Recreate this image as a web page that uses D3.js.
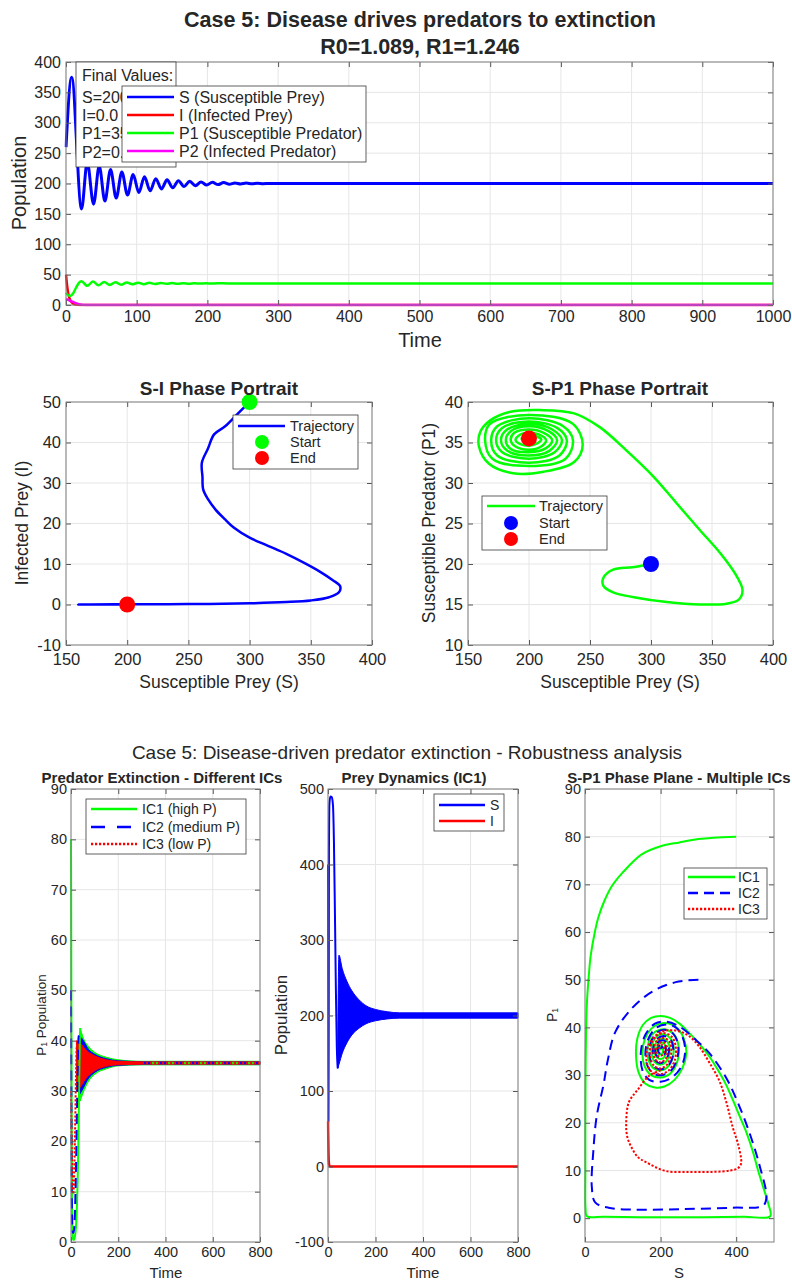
<!DOCTYPE html>
<html>
<head>
<meta charset="utf-8">
<script src="https://cdn.jsdelivr.net/npm/d3@7"></script>
<style>
body { margin: 0; background: #fff; }
text { font-family: "Liberation Sans", Arial, sans-serif; fill: #262626; }
</style>
</head>
<body>
<svg id="fig" width="792" height="1282"></svg>
<script>
// ---------- top panel: time series [t, value] ----------
var sTop = [[0,260],[8,375],[22,158],[30,235],[39,166],[47,229],[55,171],[63,223],[71,176],[79,219],[87,181],[95,215],[103,185],[111,211],[119,188],[127,208],[135,191],[143,206],[151,193],[159,204.5],[167,195],[175,203.5],[183,196.5],[191,202.5],[199,197.5],[207,202],[215,198.2],[223,201.5],[231,198.8],[239,201],[247,199.2],[255,200.7],[263,199.5],[271,200.4],[279,199.7],[287,200.2],[300,200],[1000,200]];
var iTop = [[0,50],[1,38],[2,28],[3,20],[5,11],[7,6],[10,2.5],[14,0.8],[20,0.1],[30,0],[1000,0]];
var p1Top = [[0,20],[3,16],[6,15],[10,19],[14,28],[18,36],[22,39],[30,31.5],[38,38.5],[46,32.5],[54,38],[62,33],[70,37.5],[78,33.5],[86,37],[94,34],[102,36.8],[110,34.3],[118,36.5],[126,34.6],[134,36.3],[142,34.8],[150,36.1],[158,35],[166,36],[174,35.1],[182,35.9],[190,35.2],[198,35.8],[206,35.3],[214,35.7],[230,35.5],[1000,35.5]];
var p2Top = [[0,10],[3,8.5],[6,7],[10,5],[14,3],[18,1.5],[22,0.6],[28,0.1],[35,0],[1000,0]];
var topNames = ["S (Susceptible Prey)", "I (Infected Prey)", "P1 (Susceptible Predator)", "P2 (Infected Predator)"];
var finalValues = ["Final Values:", "S=200.0", "I=0.0", "P1=35.6", "P2=0.0"];

// ---------- phase portraits [S, I] and [S, P1] ----------
var siTraj = [[300,50],[290,47],[280,44],[271,42],[266,38.5],[261,35],[261.5,31.5],[262,28.5],[266,26],[272,23.5],[280,21],[287,19],[300,16.5],[315,14.5],[330,12.5],[345,10.2],[358,8],[368,6],[374,4.5],[373,3],[365,1.8],[350,1.0],[330,0.6],[300,0.3],[250,0.1],[200,0.05],[160,0],[200,0]];
var spTraj = [[300,20],[285,19.6],[269,19.3],[261,18.3],[261,17.3],[269,16.5],[286,15.9],[313,15.3],[340,15],[362,15.1],[372,15.6],[375,16.8],[369,18.8],[357,21.3],[340,24.2],[321,27.5],[302,30.8],[280,34],[258,36.9],[237,38.6],[209,39],[185,38.8],[168,37.7],[160,36.3],[159,34.5],[167,32.4],[187,31.2],[212,31.4],[237,32.6],[244,34.7],
  [236,37.3],[200,38.4],[168,37.3],[164,35.3],[170,33],[200,32.1],[230,33],[236,35.3],
  [228,37],[200,38],[174,37],[169,35.3],[174,33.4],[200,32.5],[225,33.4],[231,35.3],
  [223,36.8],[200,37.6],[178,36.8],[173,35.3],[178,33.8],[200,33],[221,33.8],[227,35.3],
  [219,36.6],[200,37.3],[182,36.6],[177,35.3],[182,34],[200,33.4],[217,34],[223,35.3],
  [216,36.4],[200,37],[185,36.4],[181,35.3],[185,34.2],[200,33.8],[214,34.3],[219,35.3],
  [212,36.2],[200,36.6],[188,36.2],[185,35.3],[189,34.5],[200,34.1],[210,34.5],[214,35.3],
  [208,36],[200,36.2],[192,35.9],[189,35.3],[193,34.8],[200,34.6],[207,34.9],[210,35.4],
  [205,35.8],[200,35.9],[195,35.7],[194,35.4],[197,35.1],[200,35.1],[203,35.3],[200,35.5]];
var siStart = [300, 50], siEnd = [200, 0];
var spStart = [300, 20], spEnd = [200, 35.5];

// ---------- robustness: P1 vs time for three ICs ----------
var p1Ic1 = [[0,80],[1,60],[2,40],[3,20],[4,8],[6,2],[9,0.5],[13,0.4],[17,1.2],[21,3],[25,7],[28,12],[31,19],[33,26],[35,33],[37,39],[39,42.5]];
var p1Ic2 = [[0,50],[1,35],[2,22],[3,12],[5,4],[7,2],[10,1.8],[14,3],[18,8],[22,17],[25,26],[28,34],[31,40],[33,41]];
var p1Ic3 = [[0,30],[3,20],[6,12],[9,9.5],[12,11],[15,16],[18,24],[21,33],[24,39]];
// oscillation envelopes [t, upper, lower]
var p1BandIc1 = [[39,42.5,28],[50,40.8,29.5],[75,38.8,32],[100,37.7,33.3],[150,36.7,34.4],[200,36.2,35],[300,35.9,35.2],[800,35.9,35.2]];
var p1BandIc2 = [[32,41,29],[45,40.5,30],[75,38.2,32.6],[100,37.3,33.7],[150,36.4,34.7],[200,36,35.1],[300,35.85,35.25],[800,35.85,35.25]];
var p1BandIc3 = [[23,40,30],[40,39.5,30.8],[60,38.3,32.3],[100,37,34],[150,36.2,34.9],[200,35.9,35.2],[300,35.8,35.3],[800,35.8,35.3]];
var p1Tail = [[300,35.55],[800,35.55]];
var icNames = ["IC1 (high P)", "IC2 (medium P)", "IC3 (low P)"];

// ---------- prey dynamics IC1 ----------
var sIc1 = [[0,400],[1,200],[2,60],[3,200],[4,420],[6,480],[10,490],[16,489],[21,478],[25,430],[29,340],[33,240],[37,160],[41,130]];
var sBandIc1 = [[41,160,130],[46,280,135],[60,262,150],[80,245,164],[100,233,174],[130,221,183],[160,213,189],[200,208,193],[250,205,195.5],[300,203.5,196.5],[800,203.5,196.5]];
var iIc1 = [[0,60],[1,40],[2,20],[3,8],[5,2],[8,0.3],[12,0],[800,0]];

// ---------- S-P1 phase plane, three ICs ----------
var ph1 = [[400,80],[340,79.8],[300,79.5],[250,78.8],[200,78],[150,76.3],[100,72.5],[70,69.5],[50,66.3],[35,63],[25,59.6],[15,55],[10,50.8],[5,45],[3,40],[1.5,30],[1,20],[1,10],[1.5,2],[5,0.4],[50,0.3],[150,0.2],[300,0.2],[420,0.3],[490,0.4],[485,3],[471,6.6],[458,10],[444,14],[427,18],[409,21.4],[390,25],[373,28],[352,31],[329,33.9],[303,36.5],[276,38.8],[250,40.8],[225,42],[200,42.4],[175,42],[153,40.5],[138,37.5],[135,34],[142,30.5],[160,28.2],[185,27.4],[210,27.6],[237,29],[258,31.5],[268,34.5],[262,37.5],[245,39.8],[222,40.8],[198,40.8],[175,39.7],[158,37.5],[152,34.5],[158,31.8],[175,30],[200,29.5],[225,30.3],[243,32.5],[248,35.5],[240,38],[220,39.4],[198,39.5],[177,38.5],[166,36],[168,33.2],[182,31.4],[202,31],[222,32],[234,34.5],[231,37],[215,38.4],[195,38.4],[180,37],[176,34.8],[184,32.8],[200,32.2],[216,33],[224,35],[218,37],[203,37.6],[188,36.8],[184,35],[192,33.6],[206,33.5],[214,35],[209,36.6],[197,36.7],[190,35.4],[196,34.3],[205,34.6],[205,35.9],[199,36],[197,35.3],[200,35.5]];
var ph2 = [[300,50],[240,49.5],[178,47.5],[124,44],[80,39],[60,33],[49,28],[31,21.4],[22,14],[18,6.6],[27,3.3],[62,2.2],[124,1.8],[258,1.9],[391,2.2],[471,2.6],[480,4.4],[462,11],[436,17.7],[404,24.3],[373,29.5],[329,34.6],[290,37.6],[250,40.2],[215,41.2],[185,40.8],[160,38.5],[148,35],[152,31],[170,29],[200,28.6],[230,29.5],[255,31.8],[265,35],[258,38],[240,40],[215,40.6],[190,40],[170,38],[160,35],[165,32],[182,30.3],[205,30],[228,31],[244,33.5],[246,36.5],[232,38.8],[210,39.5],[188,38.8],[173,36.5],[172,33.5],[186,31.6],[206,31.3],[225,32.5],[234,35],[226,37.5],[208,38.2],[190,37.5],[180,35.5],[184,33.3],[200,32.5],[216,33.5],[222,35.5],[214,37],[199,37.2],[187,36],[188,34.2],[200,33.7],[212,34.6],[212,36.2],[201,36.5],[193,35.6],[197,34.6],[206,35],[204,36],[200,35.5]];
var ph3 = [[200,31],[169,29.8],[140,27],[116,24.3],[109,19.9],[112,17],[124,14.7],[140,12.8],[160,11.8],[213,9.9],[280,9.7],[340,9.7],[385,10],[405,10.5],[413,11.5],[405,15.5],[391,19],[375,24],[356,28.7],[330,32.5],[302,36],[275,38.2],[249,39.2],[220,39.4],[195,38.8],[175,37.2],[163,34.8],[165,32.2],[178,30.6],[200,30.2],[222,31],[238,33.3],[240,36],[230,38],[210,38.8],[190,38.3],[175,36.5],[172,34],[182,32],[200,31.4],[218,32.3],[228,34.5],[224,37],[208,37.8],[190,37.2],[181,35.2],[186,33.3],[200,32.7],[214,33.5],[218,35.5],[210,36.8],[196,36.7],[188,35.3],[193,34],[205,34.2],[210,35.5],[204,36.3],[196,35.7],[200,35.5]];
var phNames = ["IC1", "IC2", "IC3"];

var BLUE = "#0000ff", RED = "#ff0000", GREEN = "#00ff00", MAG = "#ff00ff";
var DASH = "10,6", DOT = "2.2,1.8";

var svg = d3.select("#fig");
var defs = svg.append("defs");
var clipN = 0;

function range(a, b, s) { var r = []; for (var v = a; v <= b + 1e-9; v += s) r.push(v); return r; }

// a MATLAB-like axes box with grid, inside ticks and clip region
function makeAxes(o) {
  var x = d3.scaleLinear().domain(o.xd).range([o.l, o.r]);
  var y = d3.scaleLinear().domain(o.yd).range([o.b, o.t]);
  var g = svg.append("g");
  var grid = g.append("g").attr("stroke", "#e6e6e6").attr("stroke-width", 1);
  grid.selectAll("line.gx").data(o.xt).enter().append("line").attr("class", "gx")
    .attr("x1", d => x(d)).attr("x2", d => x(d)).attr("y1", o.t).attr("y2", o.b);
  grid.selectAll("line.gy").data(o.yt).enter().append("line").attr("class", "gy")
    .attr("y1", d => y(d)).attr("y2", d => y(d)).attr("x1", o.l).attr("x2", o.r);

  var id = "clip" + (clipN++);
  defs.append("clipPath").attr("id", id).append("rect")
    .attr("x", o.l - 1.5).attr("y", o.t - 1.5).attr("width", o.r - o.l + 3).attr("height", o.b - o.t + 3);
  var plot = g.append("g").attr("clip-path", "url(#" + id + ")");

  var fr = g.append("g");
  var fmt = d => String(d);
  var axB = fr.append("g").attr("transform", "translate(0," + o.b + ")")
    .call(d3.axisBottom(x).tickValues(o.xt).tickSize(-5).tickPadding(o.xpad).tickFormat(fmt));
  var axL = fr.append("g").attr("transform", "translate(" + o.l + ",0)")
    .call(d3.axisLeft(y).tickValues(o.yt).tickSize(-5).tickPadding(o.ypad).tickFormat(fmt));
  var axT = fr.append("g").attr("transform", "translate(0," + o.t + ")")
    .call(d3.axisTop(x).tickValues(o.xt).tickSize(-5).tickFormat(""));
  var axR = fr.append("g").attr("transform", "translate(" + o.r + ",0)")
    .call(d3.axisRight(y).tickValues(o.yt).tickSize(-5).tickFormat(""));
  [axB, axL, axT, axR].forEach(function (a) {
    a.attr("font-size", o.fs).attr("font-family", null).attr("color", "#555");
    a.select(".domain").remove();
  });
  fr.append("rect").attr("x", o.l).attr("y", o.t).attr("width", o.r - o.l).attr("height", o.b - o.t)
    .attr("fill", "none").attr("stroke", "#808080").attr("stroke-width", 1);
  return { x: x, y: y, plot: plot, g: g };
}

function text(x, y, s, o) {
  o = o || {};
  var t = svg.append("text").attr("x", x).attr("y", y).text(s)
    .attr("font-size", o.fs || 14).attr("text-anchor", o.anchor || "middle")
    .attr("dominant-baseline", "central");
  if (o.bold) t.attr("font-weight", "bold");
  if (o.rot) t.attr("transform", "rotate(-90," + x + "," + y + ")");
  return t;
}

function drawLine(ax, data, color, w, dash, curve) {
  var ln = d3.line().x(d => ax.x(d[0])).y(d => ax.y(d[1])).curve(curve || d3.curveMonotoneX);
  var p = ax.plot.append("path").attr("d", ln(data)).attr("fill", "none")
    .attr("stroke", color).attr("stroke-width", w).attr("stroke-linejoin", "round");
  if (dash) p.attr("stroke-dasharray", dash);
  return p;
}

function drawBand(ax, data, color) {
  var ar = d3.area().x(d => ax.x(d[0])).y0(d => ax.y(d[2])).y1(d => ax.y(d[1])).curve(d3.curveMonotoneX);
  ax.plot.append("path").attr("d", ar(data)).attr("fill", color).attr("stroke", color).attr("stroke-width", 1);
}

function legendBox(x0, y0, x1, y1) {
  svg.append("rect").attr("x", x0).attr("y", y0).attr("width", x1 - x0).attr("height", y1 - y0)
    .attr("fill", "#fff").attr("stroke", "#3a3a3a").attr("stroke-width", 0.8);
}
function legendLine(x0, x1, y, color, w, dash) {
  var l = svg.append("line").attr("x1", x0).attr("x2", x1).attr("y1", y).attr("y2", y)
    .attr("stroke", color).attr("stroke-width", w);
  if (dash) l.attr("stroke-dasharray", dash);
}
function dot(x, y, r, color) {
  svg.append("circle").attr("cx", x).attr("cy", y).attr("r", r).attr("fill", color);
}

// ================= TOP: time series =================
text(420, 20, "Case 5: Disease drives predators to extinction", { fs: 21.5, bold: true });
text(420, 47, "R0=1.089, R1=1.246", { fs: 21.5, bold: true });
var A = makeAxes({ l: 66, r: 773, t: 62, b: 305, xd: [0, 1000], yd: [0, 400],
  xt: range(0, 1000, 100), yt: range(0, 400, 50), fs: 16, xpad: 6, ypad: 5 });
drawLine(A, sTop, BLUE, 3);
drawLine(A, iTop, RED, 2.5);
drawLine(A, p1Top, GREEN, 2.5);
drawLine(A, p2Top, MAG, 2.5);
text(19, 183, "Population", { fs: 20, rot: true });
text(420, 340, "Time", { fs: 20 });

// final values annotation
legendBox(76, 62, 176, 167);
[75, 97, 115, 133, 152].forEach(function (yy, i) {
  text(82, yy, finalValues[i], { fs: 16, anchor: "start" });
});
// legend
legendBox(122, 86, 366, 162);
[[BLUE, 97], [RED, 115], [GREEN, 133], [MAG, 151]].forEach(function (e, i) {
  legendLine(127, 174, e[1], e[0], 2.5);
  text(179, e[1], topNames[i], { fs: 16, anchor: "start" });
});

// ================= MIDDLE: phase portraits =================
var B = makeAxes({ l: 66, r: 372, t: 402, b: 645, xd: [150, 400], yd: [-10, 50],
  xt: range(150, 400, 50), yt: range(-10, 50, 10), fs: 16.5, xpad: 8, ypad: 5 });
drawLine(B, siTraj, BLUE, 2.5, null, d3.curveCatmullRom.alpha(0.5));
dot(B.x(siStart[0]), B.y(siStart[1]), 8, GREEN);
dot(B.x(siEnd[0]), B.y(siEnd[1]), 8, RED);
text(219, 388, "S-I Phase Portrait", { fs: 19, bold: true });
text(219, 682, "Susceptible Prey (S)", { fs: 17.5 });
text(22, 523, "Infected Prey (I)", { fs: 17.5, rot: true });
legendBox(233, 415, 358, 469);
legendLine(238, 285, 426, BLUE, 2.5);
dot(262, 442, 7, GREEN);
dot(262, 458, 7, RED);
text(290, 426, "Trajectory", { fs: 14.5, anchor: "start" });
text(290, 442, "Start", { fs: 14.5, anchor: "start" });
text(290, 458, "End", { fs: 14.5, anchor: "start" });

var C = makeAxes({ l: 468, r: 773, t: 402, b: 645, xd: [150, 400], yd: [10, 40],
  xt: range(150, 400, 50), yt: range(10, 40, 5), fs: 16.5, xpad: 8, ypad: 5 });
drawLine(C, spTraj, GREEN, 2.5, null, d3.curveCatmullRom.alpha(0.5));
dot(C.x(spStart[0]), C.y(spStart[1]), 8, BLUE);
dot(C.x(spEnd[0]), C.y(spEnd[1]), 8, RED);
text(620, 388, "S-P1 Phase Portrait", { fs: 19, bold: true });
text(620, 682, "Susceptible Prey (S)", { fs: 17.5 });
text(429, 523, "Susceptible Predator (P1)", { fs: 17.5, rot: true });
legendBox(482, 496, 607, 550);
legendLine(487, 535, 506, GREEN, 2.5);
dot(511, 523, 7, BLUE);
dot(511, 539, 7, RED);
text(539, 506, "Trajectory", { fs: 14.5, anchor: "start" });
text(539, 523, "Start", { fs: 14.5, anchor: "start" });
text(539, 539, "End", { fs: 14.5, anchor: "start" });

// ================= BOTTOM: robustness =================
text(407, 752, "Case 5: Disease-driven predator extinction - Robustness analysis", { fs: 19 });

var D = makeAxes({ l: 71, r: 260, t: 789, b: 1242, xd: [0, 800], yd: [0, 90],
  xt: range(0, 800, 200), yt: range(0, 90, 10), fs: 14.5, xpad: 5, ypad: 4 });
drawBand(D, p1BandIc1, GREEN);
drawBand(D, p1BandIc2, BLUE);
drawBand(D, p1BandIc3, RED);
drawLine(D, p1Ic1, GREEN, 2);
drawLine(D, p1Ic2, BLUE, 2, DASH);
drawLine(D, p1Ic3, RED, 2, DOT);
drawLine(D, p1Tail, GREEN, 2.5);
drawLine(D, p1Tail, BLUE, 2.5, DASH);
drawLine(D, p1Tail, RED, 2.5, DOT);
text(162, 777, "Predator Extinction - Different ICs", { fs: 15, bold: true });
text(166, 1272, "Time", { fs: 15 });
var yl = text(41, 1015, "", { fs: 13.5, rot: true });
yl.append("tspan").text("P");
yl.append("tspan").text("1").attr("font-size", 8.5).attr("dy", 3);
yl.append("tspan").text(" Population").attr("dy", -3);
legendBox(86, 799, 246, 854);
legendLine(91, 137, 809, GREEN, 2.5);
legendLine(91, 137, 827, BLUE, 2.5, "14,12");
legendLine(91, 137, 844, RED, 2.5, DOT);
[809, 827, 844].forEach(function (yy, i) { text(142, yy, icNames[i], { fs: 14, anchor: "start" }); });

var E = makeAxes({ l: 328, r: 518, t: 789, b: 1242, xd: [0, 800], yd: [-100, 500],
  xt: range(0, 800, 200), yt: range(-100, 500, 100), fs: 14.5, xpad: 5, ypad: 4 });
drawBand(E, sBandIc1, BLUE);
drawLine(E, sIc1, BLUE, 2);
drawLine(E, iIc1, RED, 2.5);
text(414, 777, "Prey Dynamics (IC1)", { fs: 15, bold: true });
text(423, 1272, "Time", { fs: 15 });
text(281, 1015, "Population", { fs: 17, rot: true });
legendBox(434, 794, 504, 831);
legendLine(439, 485, 805, BLUE, 2.5);
legendLine(439, 485, 821, RED, 2.5);
text(490, 805, "S", { fs: 14, anchor: "start" });
text(490, 821, "I", { fs: 14, anchor: "start" });

var F = makeAxes({ l: 585, r: 774, t: 789, b: 1242, xd: [0, 500], yd: [-5, 90],
  xt: [0, 200, 400], yt: range(0, 90, 10), fs: 14.5, xpad: 5, ypad: 4 });
var cr = d3.curveCatmullRom.alpha(0.5);
drawLine(F, ph1, GREEN, 2, null, cr);
drawLine(F, ph2, BLUE, 2, DASH, cr);
drawLine(F, ph3, RED, 2, DOT, cr);
text(679, 777, "S-P1 Phase Plane - Multiple ICs", { fs: 15, bold: true });
text(679, 1272, "S", { fs: 15 });
var yl2 = text(552, 1015, "", { fs: 14, rot: true });
yl2.append("tspan").text("P");
yl2.append("tspan").text("1").attr("font-size", 8.5).attr("dy", 3);
legendBox(684, 868, 767, 919);
legendLine(688, 735, 877, GREEN, 2.5);
legendLine(688, 735, 893, BLUE, 2.5, DASH);
legendLine(688, 735, 909, RED, 2.5, DOT);
[877, 893, 909].forEach(function (yy, i) { text(738, yy, phNames[i], { fs: 14, anchor: "start" }); });
</script>
</body>
</html>
